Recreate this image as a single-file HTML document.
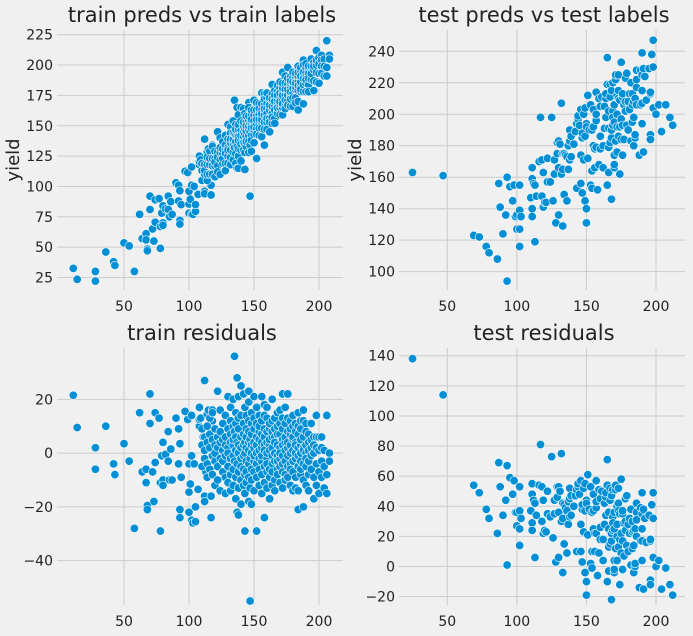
<!DOCTYPE html>
<html><head><meta charset="utf-8">
<style>
html,body{margin:0;padding:0;background:#f0f0f0;}
svg{display:block;font-family:"DejaVu Sans","Liberation Sans",sans-serif;}
</style></head>
<body>
<svg id="fig" width="693" height="636" viewBox="0 0 693 636" xmlns="http://www.w3.org/2000/svg">
<rect width="693" height="636" fill="#f0f0f0"/>
</svg>
<script>
// ---- data ----
const trainSparsePred = [11,14,28,28,36,42,43,50,54,58,62,64,67,67,68,68,70,70,72,73,74,74,77,78,78,79,80,80,80,82,84,84,85,86,87,90,92,92,93,93,93,94,97,99,100,100,100,101,102,102,102,103,104,105,105,107,108,108,108,109,111,112,112,112,113,113,114,115,116,117,117,118,118];
const trainSparseResid = [21.5,9.5,2,-6,10,-4,-8,3.5,-3,-28,15,-7,-6,-11,-19.5,-21,22,11,-7,-18,15,-3.5,13,-11,-29,-1,4,-10,-12,-0.5,8,-3,-10,1.5,-10,13,9,-4,-21,-24,3.5,-9,15.5,12.5,-14.5,-4,-22,-11.5,-1,-25,14,-26,-4,-25.5,-20,-13.5,17,10,12.5,13,6,27,-16,-18,3,-7,14.5,16,6,-16,-24,12,16];
const trainGroupPred = [110,112,114,116,118,120,122,124,126,128,130,132,134,135,136,137,138,140,142,143,144,146,147,148,150,152,154,156,158,160,162,164,166,168,170,172,174,176,178,180,182,184,186,188,190,192,194,196,198,200,202,204,206,208];
const trainGroupResid = [
[3,-5,9],[6,-2,1],[4,-9,10,-4],[2,-6,13,7],[-1,5,-8,15],[3,-3,9,-12,0],[23,-5,6,-10,2],[16,-2,4,-14,8],[1,-7,11,-3,5],[-9,3,-15,14,6,-1],
[21,2,-5,9,-11,0],[17,-8,4,12,-2,-14,7],[20,3,-6,10,-1,-12,5],[36,-3,8],[15,-9,1,6,-17,11],[28,-22,4,-4],[21,-13,3,9,-7,0,13,-23],[25,6,-2,-10,14,2,-5,-19],[22,-1,7,-12,11,-6,3],[-29,17,-8,4,0,-15],
[9,-3,14,-11,2,6,-7],[23,1,-18,8,-4,12,-9,4,19],[-55,5,-2,-13],[11,-6,3,15,-10,0,7,-19],[21,2,-7,9,-14,4,-3,13,-1],[-29,6,-4,11,0,-9,17,3],[8,-2,14,-12,5,-6,1,10],[21,-3,7,-15,2,12,-8,-1,4],[-24,18,3,-5,9,-11,1,6,14],[13,-2,8,-7,4,-13,0,17,-4],
[9,-17,3,-6,11,1,-9,5],[20,-1,6,-4,12,-12,2,8,-7],[6,-10,0,13,-3,9,-14,4],[15,-6,3,-1,10,-8,7,-3],[11,-5,2,-11,7,-2,16,0],[22,-13,5,-1,9,-7,3,13,-4],[17,4,-8,1,11,-3,6,-10],[22,-5,8,2,-1,13,-9,4],[12,-12,3,7,-4,0,9,-6],[5,-3,10,-14,1,-7,6,14],
[8,-2,4,-9,11,0,-13,3],[-21,15,2,-5,7,-1,10,-14],[9,-8,3,-3,12,0,-6,5],[16,-20,2,-10,6,-4,1,12],[8,-5,3,-12,0,11,-2],[4,-8,1,-3,7,-14],[11,2,-6,-1,5],[-17,0,6,-9,3],[14,-4,2,-12,6],[6,-15,-7,1],[6,2,-3,-9],[-13,1,-5],[14,-15,-8],[0,-3]
];
const testPred = [25,47,69,73,78,80,86,87,88,90,92,93,93,95,97,98,99,100,100,102,102,102,102,103,110,111,111,111,111,112,113,113,114,116,117,118,118,119,119,120,121,122,122,124,125,126,127,127,128,129,129,130,130,130,131,132,132,133,133,133,134,134,135,136,136,137,137,138,138,139,138,139,141,142,143,143,144,144,145,146,146,146,147,147,147,148,148,149,149,149,150,150,151,150,150,151,152,153,153,154,154,154,155,155,155,156,156,157,157,157,157,158,159,159,160,160,160,161,162,162,163,163,164,164,164,165,165,165,166,166,166,166,167,167,167,168,168,168,168,169,169,169,169,170,170,170,170,170,171,171,171,172,172,172,172,173,173,173,173,174,174,174,175,175,175,176,176,176,176,177,177,178,178,178,179,179,180,180,181,181,182,182,183,183,183,184,184,184,185,185,185,186,186,186,186,188,189,189,190,190,190,190,190,191,191,192,193,195,196,196,196,196,197,198,198,198,200,202,204,207,210,212];
const testLabel = [163,161,123,122,116,112,108,156,141,124,136,160,94,154,145,155,135,127,136,139,127,116,155,135,147,140,166,159,135,156,155,119,148,170,198,148,171,163,141,144,144,172,157,157,198,145,162,171,131,175,182,183,166,136,181,207,162,165,175,129,149,175,174,145,173,180,165,190,183,186,171,173,181,189,153,194,197,199,193,174,156,203,150,185,188,200,171,204,145,186,194,192,172,140,131,212,190,206,155,153,164,190,203,192,180,178,166,196,214,179,200,152,210,168,205,178,186,211,180,166,205,191,210,213,198,236,219,155,191,202,179,163,219,211,182,185,190,215,146,220,202,198,193,195,174,166,168,206,222,225,183,212,200,192,176,215,225,210,186,162,209,192,233,184,197,211,213,193,174,184,206,223,208,202,226,193,190,208,213,203,183,220,195,213,206,180,198,208,210,185,187,222,217,228,206,174,228,206,225,207,239,215,194,229,176,224,209,229,213,214,187,184,238,230,247,204,200,206,189,206,198,193];
const xTicks = [50,100,150,200];
const tlYTicks = [25,50,75,100,125,150,175,200,225];
const trYTicks = [100,120,140,160,180,200,220,240];
const blYTicks = [-40,-20,0,20];
const brYTicks = [-20,0,20,40,60,80,100,120,140];

// ---- drawing ----
const NS = "http://www.w3.org/2000/svg";
const svg = document.getElementById('fig');
function mk(tag, attrs, parent){ const e=document.createElementNS(NS,tag); for(const k in attrs) e.setAttribute(k,attrs[k]); (parent||svg).appendChild(e); return e; }

const trainX=[], trainR=[];
for(let i=0;i<trainSparsePred.length;i++){trainX.push(trainSparsePred[i]);trainR.push(trainSparseResid[i]);}
for(let g=0;g<trainGroupPred.length;g++){ for(const r of trainGroupResid[g]){trainX.push(trainGroupPred[g]);trainR.push(r);} }

const panels = [
 {name:'train-preds-vs-labels', title:'train preds vs train labels', box:[57,30,343,290], tx:x=>59+1.3*x, ty:v=>277.5-(v-25)*1.214, yt:tlYTicks, ylab:true,
  pts:trainX.map((x,i)=>[x, x+trainR[i]])},
 {name:'test-preds-vs-labels', title:'test preds vs test labels', box:[399,30,685,290], tx:x=>447.3+(x-50)*1.3913, ty:v=>51.3+(240-v)*1.574, yt:trYTicks, ylab:true,
  pts:testPred.map((x,i)=>[x, testLabel[i]])},
 {name:'train-residuals', title:'train residuals', box:[57,348,343,605], tx:x=>59+1.3*x, ty:v=>453.1-v*2.689, yt:blYTicks, ylab:false,
  pts:trainX.map((x,i)=>[x, trainR[i]])},
 {name:'test-residuals', title:'test residuals', box:[399,348,685,605], tx:x=>447.3+(x-50)*1.3913, ty:v=>355.7+(140-v)*1.506, yt:brYTicks, ylab:false,
  pts:testPred.map((x,i)=>[x, testLabel[i]-x])}
];

for(const p of panels){
  const g = mk('g',{});
  
  
  const [l,t,r,b]=p.box;
  for(const v of p.yt){
    const y=p.ty(v);
    const ln=mk('line',{x1:l,x2:r,y1:y,y2:y,stroke:'#cbcbcb','stroke-width':1},g);
    
    
    const tx=mk('text',{x:l-4,y:y+5,'text-anchor':'end','font-size':14,fill:'#222'},g);
    tx.textContent = v<0 ? '\u2212'+Math.abs(v) : String(v);
    
    
  }
  for(const v of xTicks){
    const x=p.tx(v);
    const ln=mk('line',{x1:x,x2:x,y1:t,y2:b,stroke:'#cbcbcb','stroke-width':1},g);
    
    
    const tx=mk('text',{x:x,y:b+21,'text-anchor':'middle','font-size':14,fill:'#222'},g);
    tx.textContent=String(v);
    
    
  }
  const ti=mk('text',{x:(l+r)/2+2,y:t-8,'text-anchor':'middle','font-size':21,fill:'#222'},g);
  ti.textContent=p.title;
  
  
  if(p.ylab){
    const cx=l-38, cy=160;
    const yl=mk('text',{x:cx,y:cy,'text-anchor':'middle','font-size':18,fill:'#222',transform:`rotate(-90 ${cx} ${cy})`},g);
    yl.textContent='yield';
    
    
  }
  for(const [x,y] of p.pts){
    const c=mk('circle',{cx:p.tx(x),cy:p.ty(y),r:4.2,fill:'#008fd5',stroke:'#ffffff','stroke-width':0.6},g);
    
    
  }
}
</script>
</body></html>
